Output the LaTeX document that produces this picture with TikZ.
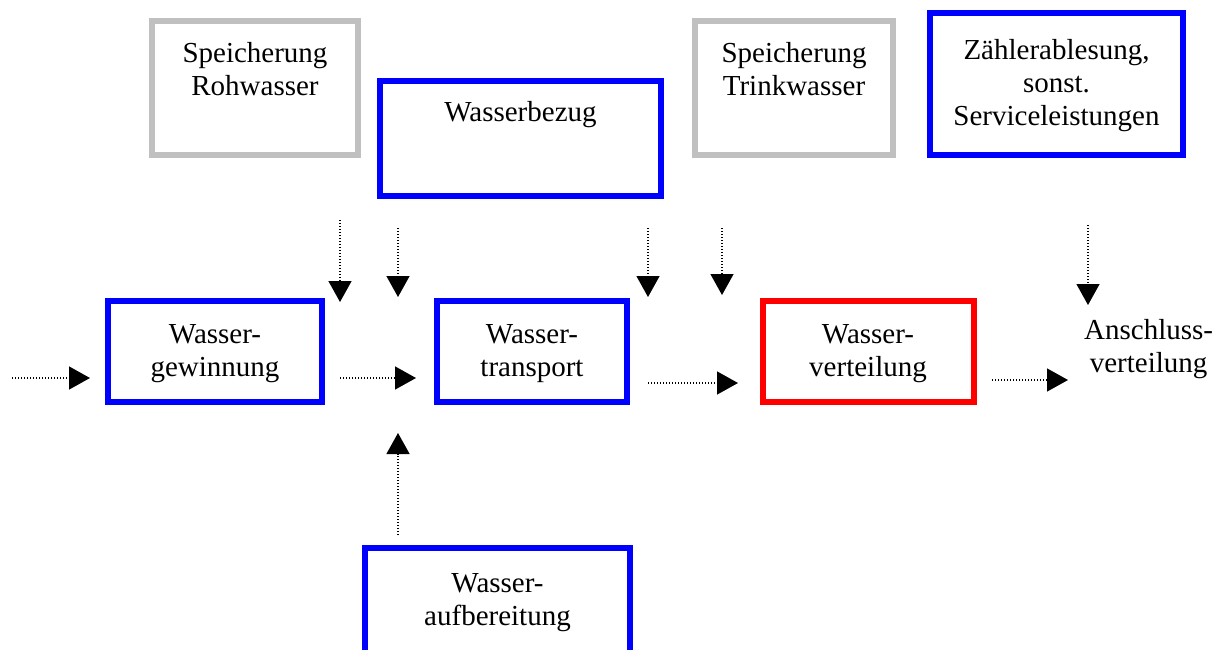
\documentclass[tikz,border=0pt]{standalone}
\usepackage{fontspec}
\setmainfont{Liberation Serif}
\usetikzlibrary{arrows.meta,positioning}
\definecolor{boxgray}{RGB}{192,192,192}
\definecolor{boxblue}{RGB}{0,0,255}
\definecolor{boxred}{RGB}{255,0,0}
\tikzset{
    frame/.style={draw=#1,line width=6pt,rectangle,inner sep=0pt},
    boxtext/.style={align=center,inner sep=0pt,font=\fontsize{29}{33}\selectfont},
    flow/.style={line width=1.4pt,dash pattern=on 1.4pt off 1.6pt,
        -{Triangle[width=23pt,length=21pt]}},
}
\begin{document}
\begin{tikzpicture}[x=1pt,y=-1pt]
    \useasboundingbox (0,0) rectangle (1223,650);
    %% upper row
    \node[frame=boxgray,minimum width=206pt,minimum height=134pt] (rohw) at (255,88) {};
    \node[boxtext,anchor=north] (rohwtext) at ([yshift=-24pt]rohw.north) {Speicherung\\Rohwasser};
    \node[frame=boxblue,minimum width=281pt,minimum height=115pt] (bezug) at (520.5,138.5) {};
    \node[boxtext,anchor=north] (bezugtext) at ([yshift=-23pt]bezug.north) {Wasserbezug};
    \node[frame=boxgray,minimum width=198pt,minimum height=134pt] (trinkw) at (794,88) {};
    \node[boxtext,anchor=north] (trinkwtext) at ([yshift=-24pt]trinkw.north) {Speicherung\\Trinkwasser};
    \node[frame=boxblue,minimum width=253pt,minimum height=142pt] (zaehler) at (1056.5,84) {};
    \node[boxtext] (zaehlertext) at ([yshift=-2pt]zaehler) {Zählerablesung,\\sonst.\\Serviceleistungen};
    %% main row
    \node[frame=boxblue,minimum width=214pt,minimum height=101pt] (gew) at (215,351.5) {};
    \node[boxtext] (gewtext) at ([yshift=-2pt]gew) {Wasser-\\gewinnung};
    \node[frame=boxblue,minimum width=190pt,minimum height=101pt] (trans) at (532,351.5) {};
    \node[boxtext] (transtext) at ([yshift=-2pt]trans) {Wasser-\\transport};
    \node[frame=boxred,minimum width=211pt,minimum height=101pt] (vert) at (868,351.5) {};
    \node[boxtext] (verttext) at ([yshift=-2pt]vert) {Wasser-\\verteilung};
    \node[boxtext,anchor=west] (anschl) at (1084,349) {Anschluss-\\verteilung};
    %% lower box, cut off at the bottom
    \node[frame=boxblue,minimum width=265pt,minimum height=106pt] (aufb) at (497.5,601) {};
    \node[boxtext] (aufbtext) at (497.5,603) {Wasser-\\aufbereitung};
    %% free ends of the arrows
    \coordinate (in0) at (12,378);    \coordinate (in1) at (90,378);
    \coordinate (gt0) at (340,378);   \coordinate (gt1) at (416,378);
    \coordinate (tv0) at (648,383);   \coordinate (tv1) at (738,383);
    \coordinate (va0) at (992,380);   \coordinate (va1) at (1068,380);
    \coordinate (up0) at (398,535);   \coordinate (up1) at (398,433);
    \draw[flow] (in0) -- (in1);
    \draw[flow] (gt0) -- (gt1);
    \draw[flow] (tv0) -- (tv1);
    \draw[flow] (va0) -- (va1);
    \draw[flow] (up0) -- (up1);
    \foreach \x/\ya/\yb in {340/220/302, 398/228/297, 648/228/297, 722/228/295, 1088/225/305}
        \draw[flow] (\x,\ya) coordinate (d\x) -- (\x,\yb);
\end{tikzpicture}
\end{document}
